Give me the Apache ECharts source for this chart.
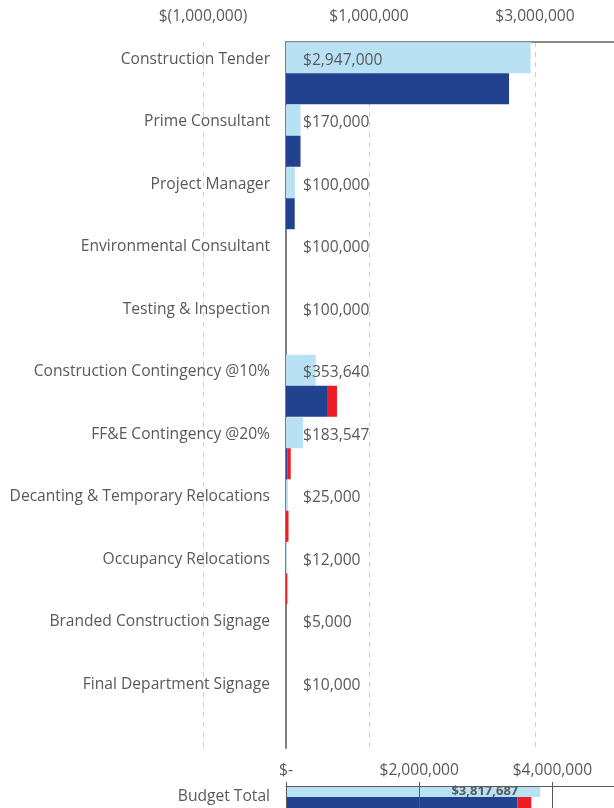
<!DOCTYPE html>
<html>
<head>
<meta charset="utf-8">
<script src="https://cdn.jsdelivr.net/npm/echarts@6/dist/echarts.min.js"></script>
<style>
  html, body { margin: 0; padding: 0; background: #ffffff; }
  #chart { width: 614px; height: 808px; }
</style>
</head>
<body>
<div id="chart"></div>
<script>
// budget lines, top to bottom
var categories = ['Construction Tender', 'Prime Consultant', 'Project Manager', 'Environmental Consultant',
  'Testing & Inspection', 'Construction Contingency @10%', 'FF&E Contingency @20%',
  'Decanting & Temporary Relocations', 'Occupancy Relocations', 'Branded Construction Signage',
  'Final Department Signage'];
// budget amounts printed beside each line
var budget = [2947000, 170000, 100000, 100000, 100000, 353640, 183547, 25000, 12000, 5000, 10000];
// light blue bar lengths as drawn (some rows show no bar)
var budgetBar = [2947000, 175000, 108000, 0, 0, 358000, 205000, 25000, 12000, 0, 0];
var spent = [2687000, 175000, 105000, 0, 0, 494000, 15000, 0, 0, 0, 0];
var committed = [0, 0, 0, 0, 0, 120000, 42000, 30000, 16000, 0, 0];

// totals row
var totalCategory = ['Budget Total'];
var budgetTotal = [3817687];
var spentTotal = [3473000];
var committedTotal = [210000];

var grey = '#595959';
var font = 'Open Sans';
var fs = 15.6;

function money(v) {
  if (v === 0) return '$-';
  if (v < 0) return '$(' + Math.abs(v).toLocaleString('en-US') + ')';
  return '$' + v.toLocaleString('en-US');
}

var chart = echarts.init(document.getElementById('chart'), null, { renderer: 'canvas' });

var option = {
  backgroundColor: '#ffffff',
  animation: false,
  textStyle: { fontFamily: font },
  grid: [
    { left: 203, right: 0, top: 42, height: 706, outerBoundsMode: 'none' },   // gridlines + zero line
    { left: 286, right: 0, top: 42, height: 687.5, outerBoundsMode: 'none' }, // bars
    { left: 286, right: 0, top: 42, height: 1, outerBoundsMode: 'none' },     // top border line
    { left: 286, right: 0, top: 786, height: 22, outerBoundsMode: 'none' }    // budget total
  ],
  xAxis: [
    {
      gridIndex: 0, type: 'value', position: 'top',
      min: -1000000, max: 3952000, interval: 2000000,
      axisLine: { show: false },
      axisTick: { show: false },
      axisLabel: { formatter: money, color: grey, fontSize: fs, margin: 17, showMaxLabel: false },
      splitLine: { lineStyle: { color: '#cfcfcf', type: [5, 5], width: 1 } }
    },
    {
      gridIndex: 1, type: 'value', min: 0, max: 3952000, show: false
    },
    {
      gridIndex: 2, type: 'value', position: 'top', min: 0, max: 1,
      axisLine: { show: true, onZero: false, lineStyle: { color: '#8c8c8c', width: 2 } },
      axisTick: { show: false }, axisLabel: { show: false }, splitLine: { show: false }
    },
    {
      gridIndex: 3, type: 'value', position: 'top',
      min: 0, max: 4925000, interval: 2000000, z: 5,
      axisLine: { show: true, lineStyle: { color: grey, width: 1 } },
      axisTick: { show: true, inside: false, length: 4, lineStyle: { color: grey } },
      axisLabel: { formatter: money, color: grey, fontSize: fs, margin: 7, showMaxLabel: false },
      splitLine: { show: true, lineStyle: { color: grey, width: 1 } }
    }
  ],
  yAxis: [
    {
      gridIndex: 0, type: 'value', min: 0, max: 1, z: 1,
      axisLine: { show: true, onZero: true, lineStyle: { color: '#7f7f7f', width: 2 } },
      axisTick: { show: false }, axisLabel: { show: false }, splitLine: { show: false }
    },
    {
      gridIndex: 1, type: 'category', inverse: true, data: categories,
      axisLine: { show: false },
      axisTick: { show: false },
      axisLabel: { color: grey, fontSize: fs, margin: 16, verticalAlign: 'bottom', lineHeight: 28 }
    },
    { gridIndex: 2, type: 'category', data: [''], show: false },
    {
      gridIndex: 3, type: 'category', inverse: true, data: totalCategory,
      axisLine: { show: false }, axisTick: { show: false },
      axisLabel: { color: grey, fontSize: fs, margin: 16 }
    }
  ],
  series: [
    {
      name: 'Budget', type: 'bar', xAxisIndex: 1, yAxisIndex: 1,
      data: budgetBar, barWidth: 31, barGap: 0, itemStyle: { color: '#b8e2f4' },
      label: {
        show: true, position: 'insideLeft', distance: 17, offset: [0, 2.5],
        color: grey, fontSize: fs,
        formatter: function (p) { return money(budget[p.dataIndex]); }
      }
    },
    {
      name: 'Spent', type: 'bar', xAxisIndex: 1, yAxisIndex: 1, stack: 'actual',
      data: spent, barWidth: 31, barGap: 0, itemStyle: { color: '#22418e' }
    },
    {
      name: 'Committed', type: 'bar', xAxisIndex: 1, yAxisIndex: 1, stack: 'actual',
      data: committed, barWidth: 31, barGap: 0, itemStyle: { color: '#ed1c24' }
    },
    {
      name: 'Budget Total', type: 'bar', xAxisIndex: 3, yAxisIndex: 3,
      data: budgetTotal, barWidth: 11, barGap: 0, itemStyle: { color: '#b8e2f4' },
      label: {
        show: true, position: 'insideRight', distance: 22,
        color: grey, fontSize: 13, fontWeight: 'bold',
        formatter: function (p) { return money(p.value); }
      }
    },
    {
      name: 'Spent Total', type: 'bar', xAxisIndex: 3, yAxisIndex: 3, stack: 'total',
      data: spentTotal, barWidth: 11, barGap: 0, itemStyle: { color: '#22418e' }
    },
    {
      name: 'Committed Total', type: 'bar', xAxisIndex: 3, yAxisIndex: 3, stack: 'total',
      data: committedTotal, barWidth: 11, barGap: 0, itemStyle: { color: '#ed1c24' }
    }
  ]
};

chart.setOption(option);
</script>
</body>
</html>
